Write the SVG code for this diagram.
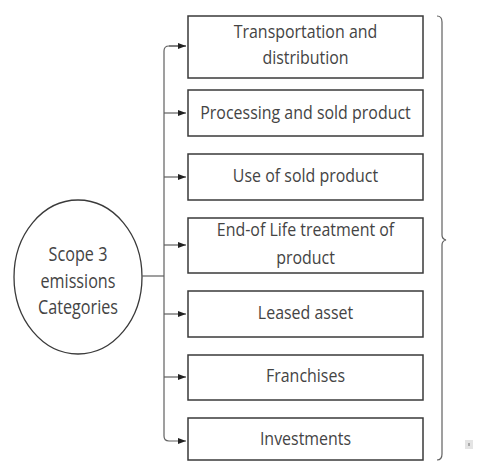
<svg xmlns="http://www.w3.org/2000/svg" width="477" height="464" viewBox="0 0 477 464">
  <style>
    .box { fill: #ffffff; stroke: #3a3a3a; stroke-width: 1.5; }
    .lbl { font-family: "Open Sans", "Noto Sans", "Liberation Sans", sans-serif; font-size: 19px; fill: #444444; text-anchor: middle; }
    .big { font-size: 19.5px; }
    .conn { fill: none; stroke: #606060; stroke-width: 1.2; }
  </style>
  <defs>
    <marker id="arrow" viewBox="0 0 8 6" refX="8" refY="3" markerWidth="8" markerHeight="6" markerUnits="userSpaceOnUse" orient="auto">
      <path d="M0,0 L8,3 L0,6 Z" fill="#222222"/>
    </marker>
  </defs>
  <rect width="477" height="464" fill="#ffffff"/>

  <!-- root node -->
  <g id="scope3">
    <ellipse cx="78" cy="277" rx="64" ry="77" fill="#ffffff" stroke="#3a3a3a" stroke-width="1.3"/>
    <g transform="matrix(0.83 0 0 1 78 0)">
      <text class="lbl big" x="0" y="261">Scope 3</text>
      <text class="lbl big" x="0" y="288">emissions</text>
      <text class="lbl big" x="0" y="314">Categories</text>
    </g>
  </g>

  <!-- connectors -->
  <g id="connectors">
    <path class="conn" d="M142,276 H164"/>
    <path class="conn" d="M186,46 H169 Q164,46 164,51 V436 Q164,441 169,441 H186" marker-end="url(#arrow)"/>
    <path class="conn" d="M169,46 H186" marker-end="url(#arrow)"/>
    <path class="conn" d="M164,113 H186" marker-end="url(#arrow)"/>
    <path class="conn" d="M164,177 H186" marker-end="url(#arrow)"/>
    <path class="conn" d="M164,245 H186" marker-end="url(#arrow)"/>
    <path class="conn" d="M164,314 H186" marker-end="url(#arrow)"/>
    <path class="conn" d="M164,377 H186" marker-end="url(#arrow)"/>
  </g>

  <!-- category nodes (labels drawn in a horizontally condensed frame) -->
  <g id="transport">
    <rect class="box" x="188" y="16" width="235" height="62"/>
    <g transform="matrix(0.84 0 0 1 305.5 0)">
      <text class="lbl" x="0" y="38">Transportation and</text>
      <text class="lbl" x="0" y="64">distribution</text>
    </g>
  </g>
  <g id="processing">
    <rect class="box" x="188" y="90" width="235" height="46"/>
    <g transform="matrix(0.84 0 0 1 305.5 0)">
      <text class="lbl" x="0" y="119">Processing and sold product</text>
    </g>
  </g>
  <g id="use">
    <rect class="box" x="188" y="154" width="235" height="46"/>
    <g transform="matrix(0.84 0 0 1 305.5 0)">
      <text class="lbl" x="0" y="182">Use of sold product</text>
    </g>
  </g>
  <g id="endoflife">
    <rect class="box" x="188" y="218" width="235" height="55"/>
    <g transform="matrix(0.84 0 0 1 305.5 0)">
      <text class="lbl" x="0" y="236">End-of Life treatment of</text>
      <text class="lbl" x="0" y="264">product</text>
    </g>
  </g>
  <g id="leased">
    <rect class="box" x="188" y="291" width="235" height="46"/>
    <g transform="matrix(0.84 0 0 1 305.5 0)">
      <text class="lbl" x="0" y="319">Leased asset</text>
    </g>
  </g>
  <g id="franchises">
    <rect class="box" x="188" y="355" width="235" height="45"/>
    <g transform="matrix(0.84 0 0 1 305.5 0)">
      <text class="lbl" x="0" y="382">Franchises</text>
    </g>
  </g>
  <g id="investments">
    <rect class="box" x="188" y="418" width="235" height="42"/>
    <g transform="matrix(0.84 0 0 1 305.5 0)">
      <text class="lbl" x="0" y="445">Investments</text>
    </g>
  </g>

  <!-- grouping brace -->
  <g id="brace">
    <path d="M437,16 Q442,16 442,22 V235 Q442,239 446,240 Q442,241 442,245 V454 Q442,460 437,460" fill="none" stroke="#606060" stroke-width="1.2"/>
  </g>

  <!-- small marker at lower right -->
  <g id="badge">
    <rect x="465" y="440" width="8" height="9" fill="#e4e4e4"/>
    <rect x="468" y="443" width="2" height="3" fill="#aaaaaa"/>
  </g>
</svg>
